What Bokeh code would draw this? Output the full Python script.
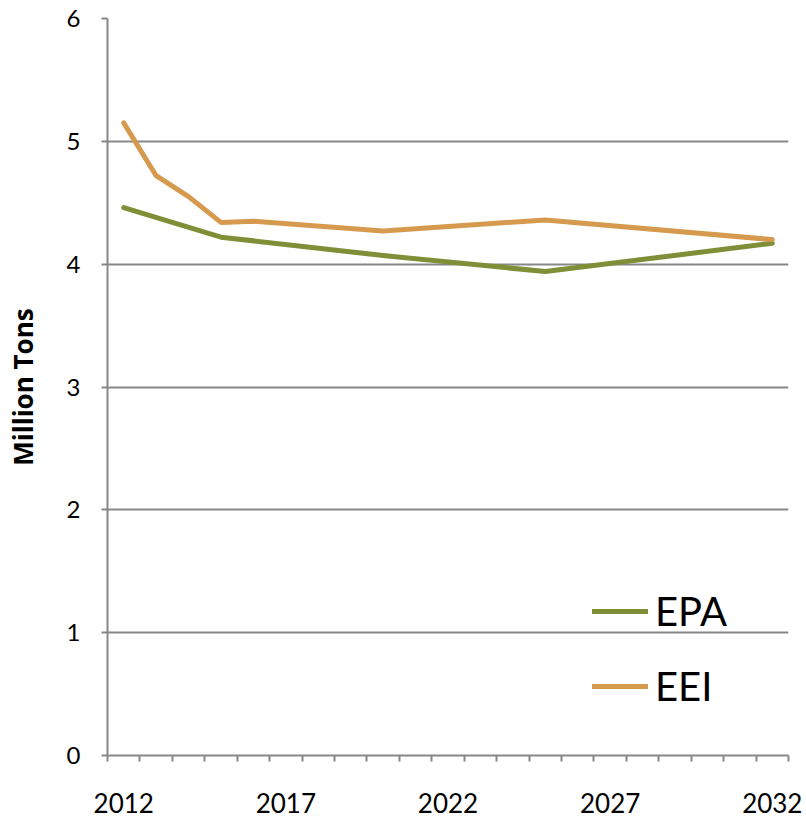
from bokeh.plotting import figure
from bokeh.models import Range1d, FixedTicker, Legend, LegendItem
from bokeh.embed import file_html
from bokeh.resources import INLINE

# Data
epa_years = [2012, 2015, 2020, 2025, 2032]
epa_values = [4.46, 4.22, 4.07, 3.94, 4.17]
eei_years = [2012, 2013, 2014, 2015, 2016, 2020, 2025, 2032]
eei_values = [5.15, 4.72, 4.55, 4.34, 4.35, 4.27, 4.36, 4.20]
x_tick_labels = [2012, 2017, 2022, 2027, 2032]
y_ticks = [0, 1, 2, 3, 4, 5, 6]

EPA_COLOR = "#7F8F38"
EEI_COLOR = "#D69A4E"
GRID = "#878787"
FONT = "Lato"

p = figure(width=806, height=819, output_backend="svg", toolbar_location=None,
           x_range=Range1d(2011.5, 2032.5), y_range=Range1d(0, 6),
           min_border_left=107, min_border_top=18, min_border_right=18,
           min_border_bottom=64)
p.outline_line_color = None
p.background_fill_color = "white"

r_epa = p.line(epa_years, epa_values, line_color=EPA_COLOR, line_width=5,
               line_join="round", line_cap="round")
r_eei = p.line(eei_years, eei_values, line_color=EEI_COLOR, line_width=5,
               line_join="round", line_cap="round")

# x axis
p.xaxis.ticker = FixedTicker(ticks=x_tick_labels,
                             minor_ticks=[2011.5 + i for i in range(22)])
p.xaxis.major_tick_out = 0
p.xaxis.major_tick_in = 0
p.xaxis.minor_tick_out = 6
p.xaxis.minor_tick_in = 0
p.xaxis.minor_tick_line_color = GRID
p.xaxis.minor_tick_line_width = 2
p.xaxis.axis_line_color = GRID
p.xaxis.axis_line_width = 2
p.xaxis.major_label_text_font = FONT
p.xaxis.major_label_text_font_size = "26px"
p.xaxis.major_label_text_color = "black"
p.xaxis.major_label_standoff = 31
p.xgrid.grid_line_color = None

# y axis
p.yaxis.ticker = FixedTicker(ticks=y_ticks)
p.yaxis.minor_tick_line_color = None
p.yaxis.major_tick_out = 6
p.yaxis.major_tick_in = 0
p.yaxis.major_tick_line_color = GRID
p.yaxis.major_tick_line_width = 2
p.yaxis.axis_line_color = GRID
p.yaxis.axis_line_width = 2
p.yaxis.major_label_text_font = FONT
p.yaxis.major_label_text_font_size = "24px"
p.yaxis.major_label_text_color = "black"
p.yaxis.major_label_standoff = 21
p.yaxis.axis_label = "Million Tons"
p.yaxis.axis_label_text_font = "Open Sans"
p.yaxis.axis_label_text_font_size = "26px"
p.yaxis.axis_label_text_font_style = "bold"
p.yaxis.axis_label_text_color = "black"
p.yaxis.axis_label_standoff = 23
p.ygrid.grid_line_color = GRID
p.ygrid.grid_line_width = 2

legend = Legend(items=[LegendItem(label="EPA", renderers=[r_epa]),
                       LegendItem(label="EEI", renderers=[r_eei])],
                location=(485, 45))
legend.border_line_alpha = 0
legend.background_fill_alpha = 0
legend.padding = 0
legend.margin = 0
legend.spacing = 27
legend.glyph_width = 56
legend.label_standoff = 7
legend.label_text_font = FONT
legend.label_text_font_size = "40px"
legend.label_text_color = "black"
p.add_layout(legend, "center")

open("out.html", "w").write(file_html(p, INLINE))
